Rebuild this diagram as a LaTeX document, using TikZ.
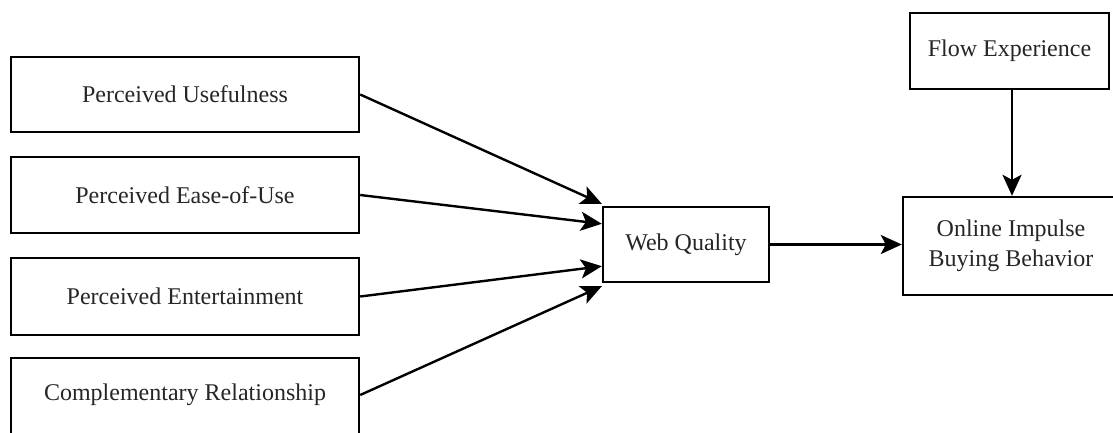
\documentclass[tikz,border=0pt]{standalone}
\usepackage{fontspec}
\setmainfont{Liberation Serif}
\usetikzlibrary{arrows.meta,calc}
\begin{document}
\begin{tikzpicture}[x=1pt,y=-1pt,
  box/.style={draw=black,line width=2.4pt,fill=white,inner sep=0pt,
    font=\fontsize{24}{30}\selectfont,align=center,text=black!85},
  link/.style={line width=2.4pt,-{Stealth[length=21pt,width=19pt,inset=5pt]}}]
\useasboundingbox (0,0) rectangle (1113,432);
\node[box,minimum width=348pt,minimum height=75pt] (pu) at (185,94.5) {Perceived Usefulness};
\node[box,minimum width=348pt,minimum height=76pt] (pe) at (185,195) {Perceived Ease-of-Use};
\node[box,minimum width=348pt,minimum height=77pt] (pt) at (185,296.5) {Perceived Entertainment};
\node[box,minimum width=348pt,minimum height=78pt] (cr) at (185,397) {};
\node[font=\fontsize{24}{30}\selectfont,text=black!85] (crt) at (185,395) {Complementary Relationship};
\node[box,minimum width=166pt,minimum height=75pt] (wq) at (686,244.5) {Web Quality};
\node[box,minimum width=199pt,minimum height=76pt] (fe) at (1009.5,51) {Flow Experience};
\node[box,minimum width=216pt,minimum height=98pt] (oi) at (1011,246) {Online Impulse\\Buying Behavior};
\coordinate (t1) at ($(wq.north west)+(0,-2)$);
\coordinate (t2) at ($(wq.north west)+(0,18)$);
\coordinate (t3) at ($(wq.south west)+(0,-17)$);
\coordinate (t4) at ($(wq.south west)+(0,3)$);
\coordinate (fs) at ($(fe.south)+(2.5,0)$);
\draw[link] (pu.east) -- (t1);
\draw[link] (pe.east) -- (t2);
\draw[link] (pt.east) -- (t3);
\draw[link] (cr.east |- crt) -- (t4);
\draw[link] (wq.east) -- (oi.west |- wq.east);
\draw[link] (fs) -- (fs |- oi.north);
\end{tikzpicture}
\end{document}
